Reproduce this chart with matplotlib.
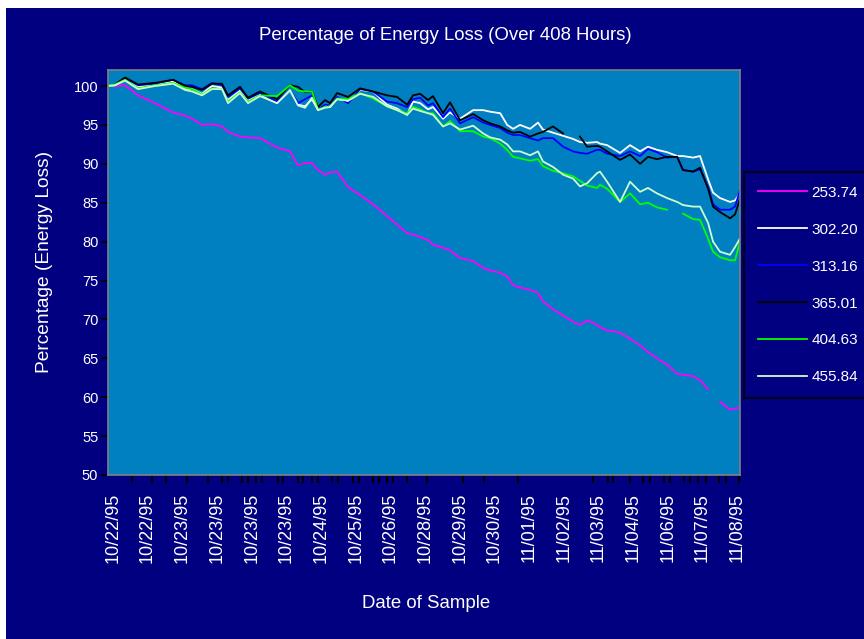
import numpy as np
import matplotlib
matplotlib.use('Agg')
import matplotlib.pyplot as plt
from matplotlib.patches import Rectangle

plt.rcParams['font.family'] = ['Liberation Sans', 'DejaVu Sans']

# sample times (hours since start)
hours = [0, 4.5, 11.0, 19.4, 30.3, 42.0, 49.7, 54.2, 60.7, 67.1,
         73.6, 77.5, 85.2, 90.4, 98.1, 109.1, 117.5, 122.7, 127.2, 131.7,
         135.6, 140.1, 143.3, 147.9, 155.0, 162.7, 171.1, 180.1, 186.6, 193.1,
         196.9, 201.5, 206.6, 209.8, 216.3, 220.8, 227.3, 235.7, 242.2, 246.7,
         253.2, 257.7, 261.5, 266.0, 272.5, 277.6, 280.8, 287.3, 293.8, 300.2,
         304.7, 309.3, 315.7, 317.6, 322.2, 330.6, 337.0, 343.5, 348.6, 354.4,
         360.9, 367.4, 371.2, 377.7, 382.2, 387.4, 390.6, 395.1, 401.6, 404.8,
         408.0]

nan = np.nan
loss_253 = [100.0, 100.0, 100.1, 98.8, 97.8, 96.6, 96.2, 95.8, 95.0, 95.1,
            94.8, 94.1, 93.5, 93.4, 93.3, 92.1, 91.6, 89.8, 90.1, 90.1,
            89.2, 88.6, 88.9, 89.0, 87.0, 86.0, 84.8, 83.3, 82.2, 81.1,
            80.9, 80.6, 80.2, 79.6, 79.2, 78.9, 77.9, 77.5, 76.6, 76.3,
            76.0, 75.5, 74.4, 74.1, 73.8, 73.4, 72.3, 71.3, 70.5, 69.7,
            69.3, 69.9, 69.3, 69.0, 68.6, 68.3, 67.5, 66.7, 65.8, 65.0,
            64.2, 63.0, 62.9, 62.7, 62.2, 61.0, nan, 59.4, 58.4, 58.5,
            58.7]
loss_302 = [100.0, 100.1, 100.9, 99.9, 100.2, 100.6, 99.6, 99.6, 99.0, 100.0,
            99.8, 98.2, 99.4, 98.1, 98.9, 97.8, 99.4, 97.6, 97.4, 98.3,
            96.9, 97.5, 97.3, 98.4, 98.0, 99.5, 99.3, 97.6, 97.1, 96.3,
            98.0, 97.8, 97.0, 97.3, 95.8, 96.6, 95.8, 96.9, 96.9, 96.7,
            96.5, 95.0, 94.5, 95.0, 94.5, 95.3, 94.4, 94.0, 93.6, 93.2,
            92.8, 92.7, 92.8, 92.6, 92.4, 91.4, 92.4, 91.6, 92.2, 91.8,
            91.5, 91.0, 91.0, 90.8, 91.0, 88.0, 86.3, 85.6, 85.1, 85.3,
            86.2]
loss_313 = [100.1, 100.2, 101.0, 100.1, 100.3, 100.8, 100.1, 100.1, 99.6, 100.4,
            100.1, 98.6, 99.7, 98.4, 99.1, 98.0, 99.5, 97.8, 98.3, 98.8,
            97.0, 97.6, 97.5, 98.6, 97.8, 99.6, 99.3, 98.0, 97.8, 97.3,
            98.3, 98.5, 97.5, 97.8, 96.0, 97.1, 95.2, 96.0, 95.3, 95.0,
            94.6, 94.0, 93.7, 93.7, 93.3, 93.0, 93.3, 93.3, 92.2, 91.6,
            91.4, 91.3, 91.8, 91.8, 91.3, 91.0, 91.6, 91.0, 91.9, 91.5,
            90.8, 90.9, 89.2, 89.0, 89.3, 87.0, 84.8, 84.1, 84.1, 84.5,
            86.6]
loss_365 = [100.0, 100.2, 101.1, 100.2, 100.4, 100.8, 100.0, 99.9, 99.5, 100.3,
            100.3, 98.8, 99.9, 98.5, 99.3, 98.3, 100.1, 99.9, 99.2, 99.3,
            97.3, 98.2, 97.8, 99.1, 98.6, 99.7, 99.3, 98.8, 98.6, 97.6,
            98.8, 99.0, 98.2, 98.7, 96.5, 97.9, 95.6, 96.4, 95.6, 95.2,
            94.8, 94.3, 94.0, 94.1, 93.5, 93.9, 94.1, 94.8, 93.9, nan,
            93.5, 92.2, 92.3, 92.2, 91.6, 90.5, 91.2, 90.0, 90.9, 90.6,
            90.9, 90.9, 89.2, 89.0, 89.5, 86.8, 84.5, 83.8, 83.0, 83.5,
            85.5]
loss_404 = [100.1, 100.2, 100.8, 99.7, 100.1, 100.4, 99.8, 99.6, 98.9, 99.7,
            99.6, 98.0, 99.2, 98.0, 98.8, 98.7, 100.1, 99.4, 99.3, 99.3,
            97.0, 97.3, 97.4, 98.4, 98.3, 99.1, 98.4, 97.4, 96.9, 96.5,
            97.3, 97.0, 96.5, 96.5, 94.8, 95.5, 94.2, 94.2, 93.5, 93.3,
            92.6, 91.8, 90.9, 90.7, 90.4, 90.6, 89.7, 89.1, 88.8, 88.4,
            87.8, 87.2, 86.9, 87.3, 86.8, 85.1, 86.2, 84.8, 85.0, 84.4,
            84.1, nan, 83.6, 82.9, 82.8, 80.4, 78.7, 78.0, 77.6, 77.6,
            80.0]
loss_455 = [100.0, 100.1, 100.7, 99.6, 100.0, 100.3, 99.5, 99.3, 98.8, 99.6,
            99.6, 97.8, 99.1, 97.8, 98.7, 97.8, 99.5, 97.5, 97.2, 98.5,
            96.9, 97.2, 97.3, 98.3, 98.1, 99.0, 98.6, 97.4, 96.9, 96.3,
            97.1, 96.8, 96.5, 96.3, 94.8, 95.2, 94.4, 94.9, 93.9, 93.4,
            93.1, 92.5, 91.6, 91.6, 91.1, 91.6, 90.3, 89.6, 88.6, 88.1,
            87.1, 87.5, 88.8, 89.0, 87.7, 85.1, 87.7, 86.4, 86.9, 86.2,
            85.6, 85.1, 84.7, 84.5, 84.5, 82.4, 80.0, 78.7, 78.3, 79.3,
            80.4]

series_names = ['253.74', '302.20', '313.16', '365.01', '404.63', '455.84']
series_values = [loss_253, loss_302, loss_313, loss_365, loss_404, loss_455]
series_colors = ['#FF00FF', '#FFFFFF', '#0000FF', '#000000', '#00FF00', '#CCFFCC']

date_labels = ['10/22/95', '10/22/95', '10/23/95', '10/23/95', '10/23/95', '10/23/95',
               '10/24/95', '10/25/95', '10/26/95', '10/28/95', '10/29/95', '10/30/95',
               '11/01/95', '11/02/95', '11/03/95', '11/04/95', '11/06/95', '11/07/95',
               '11/08/95']

# times where samples were logged (tick marks on the date axis)
sample_ticks = [15.3, 28.2, 37.3, 51.2, 64.4, 73.4, 77.3, 86.3, 90.6, 95.4, 99.2,
                109.6, 113.2, 122.5, 126.1, 131.5, 135.4, 144.4, 148.3, 158.4, 162.2,
                171.3, 175.2, 179.9, 184.2, 193.2, 206.1, 229.4, 242.8, 264.5, 313.3,
                322.6, 326.3, 337.0, 345.6, 350.0, 359.2, 362.8, 372.1, 375.7, 381.1,
                386.1, 394.7, 398.8, 407.6]

navy = '#000080'
W, H = 864, 639
fig = plt.figure(figsize=(8.64, 6.39), dpi=100, facecolor='white')
bg = Rectangle((6 / W, 0), 1 - 6 / W, 1 - 8 / H, transform=fig.transFigure,
               facecolor=navy, edgecolor='none', zorder=-10)
fig.add_artist(bg)

ax = fig.add_axes([108 / W, 1 - 475 / H, 632 / W, 405 / H])
ax.set_facecolor('#0080C0')
for s in ax.spines.values():
    s.set_color('#808080')
    s.set_linewidth(1.2)

for name, vals, col in zip(series_names, series_values, series_colors):
    ax.plot(hours, vals, color=col, lw=1.3, label=name)

ax.set_xlim(0, 408)
ax.set_ylim(50, 102.06)
ax.set_yticks(np.arange(50, 101, 5))
ax.tick_params(axis='y', colors='black', labelcolor='white', length=5, width=1.2,
               labelsize=10.5, pad=2)

label_pos = np.linspace(3.2, 3.2 + 22.38 * 18, 19)
ax.set_xticks(label_pos)
ax.set_xticklabels(date_labels, rotation=90, va='top', ha='center')
ax.set_xticks(sample_ticks, minor=True)
ax.tick_params(axis='x', which='major', length=0, labelcolor='white', labelsize=13, pad=13)
ax.tick_params(axis='x', which='minor', length=6, width=1.5, color='black')

fig.text(445 / W, 1 - 35 / H, 'Percentage of Energy Loss (Over 408 Hours)',
         color='white', fontsize=13.4, ha='center', va='center')
fig.text(426 / W, 1 - 603 / H, 'Date of Sample', color='white', fontsize=13.4,
         ha='center', va='center')
fig.text(45 / W, 1 - 262 / H, 'Percentage (Energy Loss)', color='white', fontsize=13.8,
         rotation=90, ha='center', va='center')

leg = ax.legend(loc='upper left', bbox_to_anchor=(744 / W, 1 - 172 / H),
                bbox_transform=fig.transFigure, frameon=True, fancybox=False,
                fontsize=11, handlelength=3.2, handletextpad=0.3, labelspacing=1.5,
                borderpad=0.9, borderaxespad=0)
leg.get_frame().set_facecolor(navy)
leg.get_frame().set_edgecolor('black')
leg.get_frame().set_linewidth(1.5)
for t in leg.get_texts():
    t.set_color('white')

fig.savefig('out.png', dpi=100, facecolor=fig.get_facecolor())
